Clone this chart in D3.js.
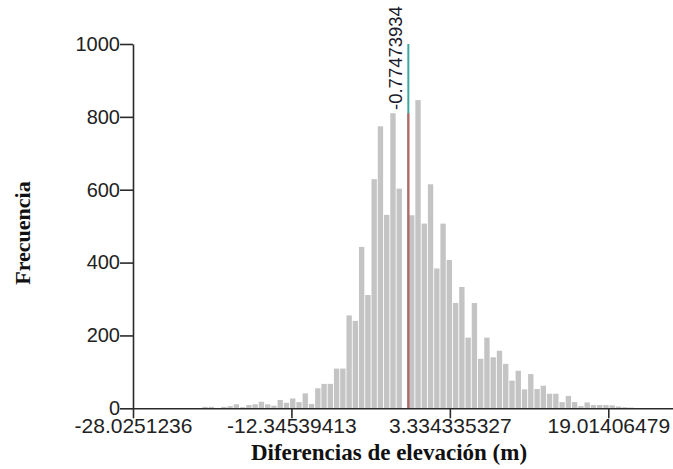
<!DOCTYPE html>
<html>
<head>
<meta charset="utf-8">
<script src="https://cdn.jsdelivr.net/npm/d3@7"></script>
<style>
  html, body { margin: 0; padding: 0; background: #fff; }
  svg { display: block; }
</style>
</head>
<body>
<svg id="chart" width="673" height="469"></svg>
<script>
// Histogram of elevation differences (m)
const dataMin = -28.0251236;
const dataMax = 34.6937942;
const binWidth = 0.62;
// frequency per bin, starting at dataMin
const counts = [
  0, 0, 0, 0, 0, 0, 0, 0, 0, 0,
  1, 4, 4, 1, 4, 6, 11, 3, 9, 11,
  18, 11, 7, 23, 15, 27, 17, 41, 12, 55,
  67, 67, 109, 109, 255, 240, 443, 311, 629, 774,
  531, 810, 603, 810, 530, 846, 507, 615, 384, 507,
  407, 289, 333, 194, 289, 136, 194, 140, 158, 122,
  76, 103, 52, 94, 53, 62, 40, 40, 17, 34,
  17, 6, 16, 9, 9, 9, 8, 5, 3, 2,
  1, 0, 0, 0, 0, 0, 0, 0, 0, 0
];
const xTickValues = [-28.0251236, -12.34539413, 3.334335327, 19.01406479];
const xTickLabels = ["-28.0251236", "-12.34539413", "3.334335327", "19.01406479"];
const yTickValues = [0, 200, 400, 600, 800, 1000];
const meanValue = -0.77473934;
const meanLabel = "-0.77473934";
const yTitle = "Frecuencia";
const xTitle = "Diferencias de elevación (m)";

const svg = d3.select("#chart");

const x = d3.scaleLinear().domain([dataMin, dataMax]).range([133, 766.7]);
const y = d3.scaleLinear().domain([0, 1000]).range([408.3, 44]);

const bins = counts.map((c, i) => ({
  i, c,
  x0: dataMin + i * binWidth,
  x1: dataMin + (i + 1) * binWidth
}));
const meanBin = Math.floor((meanValue - dataMin) / binWidth);

// bars
svg.append("g")
  .selectAll("rect")
  .data(bins.filter(d => d.c > 0 && d.i !== meanBin))
  .join("rect")
  .attr("x", d => x(d.x0) + 0.45)
  .attr("width", d => x(d.x1) - x(d.x0) - 0.9)
  .attr("y", d => y(d.c))
  .attr("height", d => y(0) - y(d.c))
  .attr("fill", "#c4c4c4");

// mean marker: full-height teal line, bin containing the mean drawn in red
svg.append("line")
  .attr("x1", x(meanValue)).attr("x2", x(meanValue))
  .attr("y1", y(0)).attr("y2", y(1000))
  .attr("stroke", "#3da59f").attr("stroke-width", 2);
svg.append("line")
  .attr("x1", x(meanValue)).attr("x2", x(meanValue))
  .attr("y1", y(0)).attr("y2", y(counts[meanBin]))
  .attr("stroke", "#c4605f").attr("stroke-width", 2);

svg.append("text")
  .attr("transform", `translate(${x(meanValue) - 6},110) rotate(-90)`)
  .attr("text-anchor", "start")
  .attr("font-family", "Liberation Sans, Arial, sans-serif")
  .attr("font-size", 18.5)
  .attr("fill", "#1a1a2a")
  .text(meanLabel);

// axes
const xAxis = d3.axisBottom(x)
  .tickValues(xTickValues)
  .tickFormat((d, i) => xTickLabels[i])
  .tickSizeInner(10).tickSizeOuter(0).tickPadding(0);
const gx = svg.append("g").attr("transform", `translate(0,${y(0)})`).call(xAxis);

const yAxis = d3.axisLeft(y)
  .tickValues(yTickValues)
  .tickFormat(d3.format("d"))
  .tickSizeInner(13).tickSizeOuter(0).tickPadding(0);
const gy = svg.append("g").attr("transform", `translate(${x(dataMin)},0)`).call(yAxis);

[gx, gy].forEach(g => {
  g.selectAll(".domain").attr("stroke", "#2a2a2a").attr("stroke-width", 1.6);
  g.selectAll(".tick line").attr("stroke", "#2a2a2a").attr("stroke-width", 1.6);
  g.selectAll(".tick text")
    .attr("font-family", "Liberation Sans, Arial, sans-serif")
    .attr("fill", "#222");
});
gx.selectAll(".tick text").attr("font-size", 21);
gy.selectAll(".tick text").attr("font-size", 20);

// titles
svg.append("text")
  .attr("transform", "translate(30,233) rotate(-90)")
  .attr("text-anchor", "middle")
  .attr("font-family", "Liberation Serif, Times New Roman, serif")
  .attr("font-weight", "bold")
  .attr("font-size", 22)
  .attr("fill", "#111")
  .text(yTitle);

svg.append("text")
  .attr("x", 389).attr("y", 460)
  .attr("text-anchor", "middle")
  .attr("font-family", "Liberation Serif, Times New Roman, serif")
  .attr("font-weight", "bold")
  .attr("font-size", 23)
  .attr("fill", "#111")
  .text(xTitle);
</script>
</body>
</html>
